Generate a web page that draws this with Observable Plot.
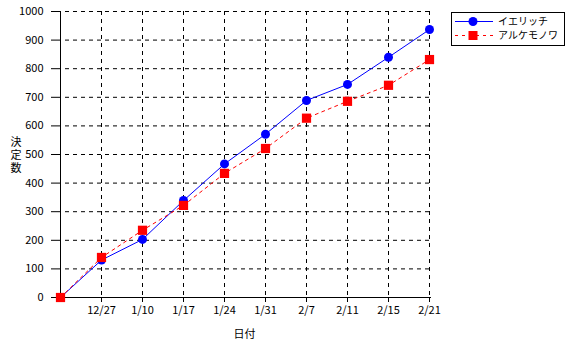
<!DOCTYPE html>
<html>
<head>
<meta charset="utf-8">
<script src="https://cdn.jsdelivr.net/npm/d3@7"></script>
<script src="https://cdn.jsdelivr.net/npm/@observablehq/plot@0.6"></script>
<style>
body { margin: 0; background: #fff; }
#chart svg { display: block; }
</style>
</head>
<body>
<div id="chart"></div>
<script>
const dates = ["", "12/27", "1/10", "1/17", "1/24", "1/31", "2/7", "2/11", "2/15", "2/21"];
const seriesA = [0, 131, 203, 339, 467, 571, 689, 745, 840, 937];
const seriesB = [0, 140, 235, 322, 434, 521, 627, 686, 742, 832];
const nameA = "イエリッチ";
const nameB = "アルケモノワ";
const yLabel = "決定数";
const xLabel = "日付";
const yTicks = [0, 100, 200, 300, 400, 500, 600, 700, 800, 900, 1000];

const dataA = dates.map((d, i) => ({date: d, value: seriesA[i]}));
const dataB = dates.map((d, i) => ({date: d, value: seriesB[i]}));

const font = "'Noto Sans CJK JP', sans-serif";

const plot = Plot.plot({
  width: 567,
  height: 340,
  marginLeft: 57,
  marginRight: 136,
  marginTop: 11,
  marginBottom: 43,
  style: {fontFamily: font, fontSize: "11px", color: "black", background: "white"},
  x: {type: "point", domain: dates, padding: 0},
  y: {domain: [0, 1000]},
  marks: [
    Plot.gridX(dates.slice(1), {stroke: "black", strokeOpacity: 1, strokeDasharray: "4,4"}),
    Plot.gridY(yTicks.slice(1), {stroke: "black", strokeOpacity: 1, strokeDasharray: "4,4"}),
    Plot.axisX({ticks: dates, tickSize: 5, tickPadding: 4, label: xLabel, labelAnchor: "center", labelArrow: "none", labelOffset: 40, fontSize: 11}),
    Plot.axisY({ticks: yTicks, tickSize: 6, tickPadding: 8, tickFormat: d => String(d), label: null, fontSize: 11}),
    Plot.ruleY([0], {stroke: "black"}),
    Plot.ruleX([dates[0]], {stroke: "black"}),
    Plot.line(dataA, {x: "date", y: "value", stroke: "#0000ff", strokeWidth: 1}),
    Plot.dot(dataA, {x: "date", y: "value", fill: "#0000ff", r: 4.5, symbol: "circle"}),
    Plot.line(dataB, {x: "date", y: "value", stroke: "#ff0000", strokeWidth: 1, strokeDasharray: "3,4"}),
    Plot.dot(dataB, {x: "date", y: "value", fill: "#ff0000", r: 5.2, symbol: "square"})
  ]
});

document.getElementById("chart").appendChild(plot);

const svg = d3.select(plot);

// vertical y-axis label (upright characters)
svg.append("text")
  .attr("x", 16).attr("y", 156)
  .attr("font-family", font).attr("font-size", 11)
  .attr("fill", "black")
  .attr("text-anchor", "middle")
  .style("writing-mode", "vertical-rl")
  .style("text-orientation", "upright")
  .style("letter-spacing", "2px")
  .text(yLabel);

// legend
const lg = svg.append("g").attr("font-family", font).attr("font-size", 10).attr("text-anchor", "start");
lg.append("rect").attr("x", 451.5).attr("y", 12.5).attr("width", 113).attr("height", 33)
  .attr("fill", "white").attr("stroke", "black");
const rows = [
  {name: nameA, color: "#0000ff", dash: null, sym: "circle", y: 21.5},
  {name: nameB, color: "#ff0000", dash: "3,4", sym: "square", y: 35.5}
];
rows.forEach(r => {
  lg.append("line").attr("x1", 455).attr("x2", 493).attr("y1", r.y).attr("y2", r.y)
    .attr("stroke", r.color).attr("stroke-dasharray", r.dash);
  if (r.sym === "circle") {
    lg.append("circle").attr("cx", 473).attr("cy", r.y).attr("r", 4.5).attr("fill", r.color);
  } else {
    lg.append("rect").attr("x", 468.5).attr("y", r.y - 4.5).attr("width", 9).attr("height", 9).attr("fill", r.color);
  }
  lg.append("text").attr("x", 498).attr("y", r.y).attr("dy", "0.35em").attr("fill", "black")
    .attr("text-anchor", "start").text(r.name);
});
</script>
</body>
</html>
